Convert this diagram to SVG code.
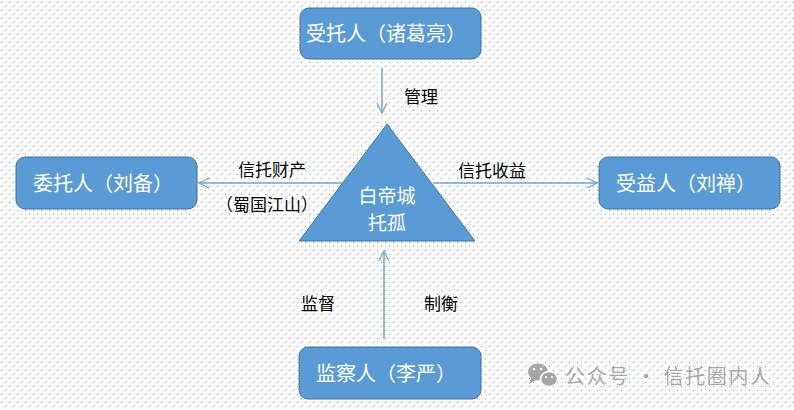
<svg xmlns="http://www.w3.org/2000/svg" width="794" height="410" viewBox="0 0 794 410">
<defs>
<pattern id="dots" x="0" y="0" width="8" height="8" patternUnits="userSpaceOnUse">
<rect x="1" y="2" width="1" height="1" fill="#7f93a3"/>
<rect x="5" y="6" width="1" height="1" fill="#7f93a3"/>
</pattern>
<marker id="arr" viewBox="0 0 12 12" refX="11" refY="6" markerWidth="12" markerHeight="12" markerUnits="userSpaceOnUse" orient="auto">
<path d="M1,1 L11,6 L1,11" fill="none" stroke="#6fa3d6" stroke-width="1.2"/>
</marker>
<style>
.box{fill:#5b9bd5;stroke:#41719c;stroke-width:1}
.bt{font-family:"Noto Sans CJK SC","Microsoft YaHei",sans-serif;font-size:20px;fill:#ffffff}
.ct{font-family:"Noto Sans CJK SC","Microsoft YaHei",sans-serif;font-size:19px;fill:#ffffff}
.lb{font-family:"Noto Sans CJK SC","Microsoft YaHei",sans-serif;font-size:17px;fill:#000000}
.con{stroke:#6fa3d6;stroke-width:1.5;fill:none}
.wm{font-family:"Noto Sans CJK SC",sans-serif;font-size:20px;fill:#a6a6a6}
</style>
</defs>
<rect width="794" height="410" fill="#ffffff"/>
<rect width="794" height="410" fill="url(#dots)"/>
<g id="connectors">
<line class="con" x1="382" y1="68" x2="382" y2="113" marker-end="url(#arr)"/>
<line class="con" x1="342" y1="183" x2="199" y2="183" marker-end="url(#arr)"/>
<line class="con" x1="433" y1="183" x2="597" y2="183" marker-end="url(#arr)"/>
<line class="con" x1="384" y1="339" x2="384" y2="251" marker-end="url(#arr)"/>
</g>
<g id="trustee">
<rect class="box" x="300" y="8" width="181" height="51" rx="9"/>
<text class="bt" x="306" y="41">受托人（诸葛亮）</text>
</g>
<g id="settlor">
<rect class="box" x="16" y="157" width="181" height="52" rx="9"/>
<text class="bt" x="33" y="191">委托人（刘备）</text>
</g>
<g id="beneficiary">
<rect class="box" x="599" y="157" width="181" height="52" rx="9"/>
<text class="bt" x="616" y="191">受益人（刘禅）</text>
</g>
<g id="supervisor">
<rect class="box" x="299" y="347" width="182" height="52" rx="9"/>
<text class="bt" x="316" y="381">监察人（李严）</text>
</g>
<g id="center">
<polygon class="box" points="387,124 299,241 475,241"/>
<text class="ct" x="387" y="203" text-anchor="middle">白帝城</text>
<text class="ct" x="387" y="230" text-anchor="middle">托孤</text>
</g>
<g id="labels">
<text class="lb" x="404" y="103">管理</text>
<text class="lb" x="238" y="176">信托财产</text>
<text class="lb" x="216" y="211">（蜀国江山）</text>
<text class="lb" x="458" y="177">信托收益</text>
<text class="lb" x="301" y="310">监督</text>
<text class="lb" x="424" y="310">制衡</text>
</g>
<g id="watermark">
<ellipse cx="538" cy="372" rx="10" ry="8.5" fill="#a6a6a6"/>
<path d="M531,378 L529,384 L536,380 Z" fill="#a6a6a6"/>
<ellipse cx="549" cy="379" rx="8.5" ry="7.5" fill="#a6a6a6" stroke="#ffffff" stroke-width="1.5"/>
<circle cx="534" cy="369" r="1.3" fill="#ffffff"/>
<circle cx="541" cy="369" r="1.3" fill="#ffffff"/>
<circle cx="546" cy="377" r="1.1" fill="#ffffff"/>
<circle cx="552" cy="377" r="1.1" fill="#ffffff"/>
<text class="wm" x="565" y="384" textLength="205" lengthAdjust="spacing">公众号 · 信托圈内人</text>
</g>
</svg>
